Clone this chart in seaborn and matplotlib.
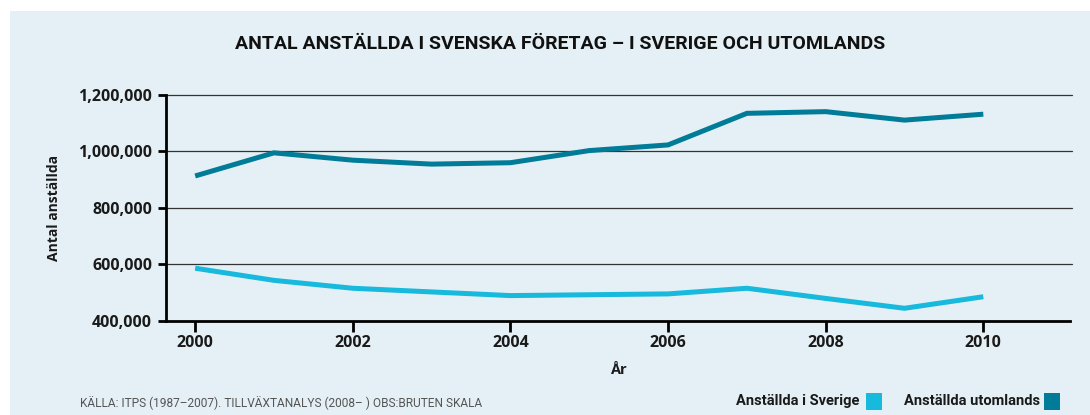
import matplotlib
matplotlib.use("Agg")
import matplotlib.pyplot as plt
from matplotlib.patches import Rectangle
from matplotlib.ticker import FuncFormatter
import seaborn as sns
import pandas as pd

years = [2000, 2001, 2002, 2003, 2004, 2005, 2006, 2007, 2008, 2009, 2010]
sverige = [586000, 543000, 515000, 502000, 489000, 492000, 495000, 515000, 479000, 444000, 485000]
utomlands = [913000, 995000, 969000, 955000, 960000, 1003000, 1023000, 1135000, 1141000, 1111000, 1132000]
series_names = ["Anställda i Sverige", "Anställda utomlands"]
y_ticks = [400000, 600000, 800000, 1000000, 1200000]
x_ticks = [2000, 2002, 2004, 2006, 2008, 2010]

title = "ANTAL ANSTÄLLDA I SVENSKA FÖRETAG – I SVERIGE OCH UTOMLANDS"
source = "KÄLLA: ITPS (1987–2007). TILLVÄXTANALYS (2008– ) OBS:BRUTEN SKALA"

light = "#17b9dd"
dark = "#007b98"
panel = "#e4f0f5"
FONT = ["Open Sans", "DejaVu Sans"]

sns.set_theme(style="white")
plt.rcParams["font.family"] = FONT

df = pd.DataFrame({
    "År": years * 2,
    "Antal": sverige + utomlands,
    "Serie": [series_names[0]] * len(years) + [series_names[1]] * len(years),
})

fig = plt.figure(figsize=(10.9, 4.15), dpi=100, facecolor="white")
fig.patches.append(Rectangle((10 / 1090, 0), 1, 1 - 11 / 415, transform=fig.transFigure,
                             facecolor=panel, edgecolor="none", zorder=-10))
ax = fig.add_axes([166 / 1090, 1 - 320.7 / 415, (1070 - 166) / 1090, (320.7 - 95) / 415])
ax.set_facecolor(panel)

sns.lineplot(data=df, x="År", y="Antal", hue="Serie", palette=[light, dark],
             linewidth=3.6, ax=ax, legend=False)
for line in ax.lines:
    line.set_solid_capstyle("butt")
    line.set_solid_joinstyle("miter")

ax.set_xlim(1999.63, 2011.1)
ax.set_ylim(400000, 1200000)
ax.set_yticks(y_ticks)
ax.set_xticks(x_ticks)
ax.yaxis.set_major_formatter(FuncFormatter(lambda v, p: f"{int(v):,}"))
for yv in y_ticks[1:]:
    ax.axhline(yv, color="#333333", linewidth=0.9, zorder=0.5, xmax=1.002, clip_on=False)

for s in ["top", "right"]:
    ax.spines[s].set_visible(False)
for s in ["left", "bottom"]:
    ax.spines[s].set_color("black")
    ax.spines[s].set_linewidth(2)
ax.tick_params(axis="y", direction="out", length=6, width=2, color="black",
               labelsize=11.5, labelcolor="#1a1a1a", pad=4, left=True)
ax.tick_params(axis="x", direction="out", length=8, width=2, color="black",
               labelsize=11.5, labelcolor="#1a1a1a", pad=2, bottom=True)
for lab in ax.get_xticklabels() + ax.get_yticklabels():
    lab.set_fontweight("bold")

ax.set_xlabel("År", fontsize=10.5, fontweight="bold", color="#1a1a1a", labelpad=9)
ax.set_ylabel("Antal anställda", fontsize=10, fontweight="bold", color="#1a1a1a", labelpad=12)

fig.text(560 / 1090, 1 - 44 / 415, title, ha="center", va="center", fontsize=14,
         fontweight="bold", color="#111111", family=["Roboto", "DejaVu Sans"])
fig.text(80 / 1090, 1 - 403 / 415, source, ha="left", va="center", fontsize=8.6,
         color="#555555", family=["Roboto", "DejaVu Sans"])

# legend
leg_items = [(series_names[0], light, 859, 866), (series_names[1], dark, 1040, 1044)]
for name, col, tx, sx in leg_items:
    fig.text(tx / 1090, 1 - 401 / 415, name, ha="right", va="center", fontsize=10.5,
             fontweight="bold", color="#1a1a1a", family=["Roboto", "DejaVu Sans"])
    fig.patches.append(Rectangle((sx / 1090, 1 - 410 / 415), 16 / 1090, 17 / 415,
                                 transform=fig.transFigure, facecolor=col, edgecolor="none"))

fig.savefig("out.png", dpi=100, facecolor="white")
